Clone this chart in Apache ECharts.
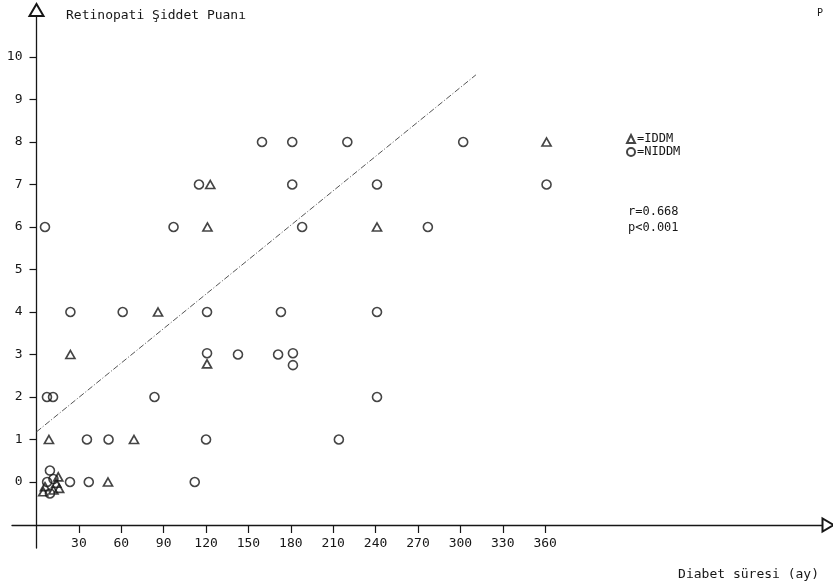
<!DOCTYPE html>
<html>
<head>
<meta charset="utf-8">
<script src="https://cdn.jsdelivr.net/npm/echarts@6/dist/echarts.min.js"></script>
<style>html,body{margin:0;padding:0;background:#fff;}#chart{width:833px;height:587px;}</style>
</head>
<body>
<div id="chart"></div>
<script>
// Diabetes duration (months) vs retinopathy severity score
const xTickValues = [30, 60, 90, 120, 150, 180, 210, 240, 270, 300, 330, 360];
const yTickValues = [0, 1, 2, 3, 4, 5, 6, 7, 8, 9, 10];

const iddmPoints = [
  [123, 7], [121, 6], [361, 8], [241, 6], [86, 4], [24, 3], [120.7, 2.78],
  [8.8, 1], [69, 1], [50.6, 0],
  [15.4, 0.12], [6, -0.11], [16, -0.15], [4.8, -0.23], [12, -0.19], [14, -0.03]
];

const niddmPoints = [
  [159.6, 8], [181, 8], [220, 8], [302, 8],
  [115, 7], [181, 7], [241, 7], [361, 7],
  [6, 6], [97, 6], [188, 6], [277, 6],
  [24, 4], [61, 4], [120.7, 4], [173, 4], [241, 4],
  [120.7, 3.03], [142.6, 3], [171, 3], [181.5, 3.03], [181.5, 2.75],
  [7.4, 2], [11.7, 2], [83.5, 2], [241, 2],
  [35.7, 1], [51, 1], [120, 1], [214, 1],
  [23.7, 0], [37, 0], [112, 0],
  [9.5, 0.27], [12, 0.07], [9.5, -0.27], [7.5, 0.0]
];

const regressionLine = [[0, 1.18], [311, 9.58]];

const fontMono = '"DejaVu Sans Mono", "Liberation Mono", monospace';
const ink = '#161616';

const chart = echarts.init(document.getElementById('chart'), null, {renderer: 'canvas'});
chart.setOption({
  animation: false,
  backgroundColor: '#ffffff',
  title: [
    {text: 'Retinopati Şiddet Puanı', left: 61, top: 4,
     textStyle: {fontFamily: fontMono, fontSize: 13, fontWeight: 'normal', color: ink}},
    {text: 'Diabet süresi (ay)', right: 9, top: 563,
     textStyle: {fontFamily: fontMono, fontSize: 13, fontWeight: 'normal', color: ink}},
    {text: 'r=0.668', left: 623, top: 201,
     textStyle: {fontFamily: fontMono, fontSize: 12, fontWeight: 'normal', color: ink}},
    {text: 'p<0.001', left: 623, top: 217,
     textStyle: {fontFamily: fontMono, fontSize: 12, fontWeight: 'normal', color: ink}},
    {text: 'P', left: 812, top: 3,
     textStyle: {fontFamily: fontMono, fontSize: 10, fontWeight: 'normal', color: ink}}
  ],
  legend: {
    data: ['IDDM', 'NIDDM'],
    orient: 'vertical',
    left: 621, top: 128,
    itemWidth: 8, itemHeight: 8, itemGap: 1,
    formatter: function (n) { return '=' + n; },
    textStyle: {fontFamily: fontMono, fontSize: 12, color: ink, padding: [0, 0, 0, -3]}
  },
  grid: {left: 12, right: 5, top: 10, bottom: 39, containLabel: false, outerBoundsMode: 'none'},
  xAxis: {
    type: 'value',
    min: -17.34, max: 560.2,
    offset: -23,
    axisLine: {onZero: false, symbol: ['none', 'emptyTriangle'], symbolSize: [13, 11],
      lineStyle: {color: ink, width: 1.3}},
    axisTick: {show: true, customValues: xTickValues, length: 8, lineStyle: {color: ink, width: 1.2}},
    axisLabel: {customValues: xTickValues, margin: 12, fontFamily: fontMono, fontSize: 13, color: ink},
    splitLine: {show: false}
  },
  yAxis: {
    type: 'value',
    position: 'left',
    offset: -24.5,
    min: -1.553, max: 11.106,
    axisLine: {onZero: false, symbol: ['none', 'emptyTriangle'], symbolSize: [14, 12],
      lineStyle: {color: ink, width: 1.3}},
    axisTick: {show: true, customValues: yTickValues, length: 7, lineStyle: {color: ink, width: 1.2}},
    axisLabel: {customValues: yTickValues, margin: 14, fontFamily: fontMono, fontSize: 13, color: ink},
    splitLine: {show: false}
  },
  series: [
    {
      name: 'IDDM', type: 'scatter', data: iddmPoints,
      symbol: 'triangle', symbolSize: [9, 8],
      itemStyle: {color: 'rgba(255,255,255,0)', borderColor: ink, borderWidth: 1.7},
      z: 3
    },
    {
      name: 'NIDDM', type: 'scatter', data: niddmPoints,
      symbol: 'circle', symbolSize: 9,
      itemStyle: {color: 'rgba(255,255,255,0)', borderColor: ink, borderWidth: 1.6},
      z: 3
    },
    {
      name: 'regression', type: 'line', data: regressionLine,
      showSymbol: false, symbol: 'none',
      lineStyle: {color: '#555', width: 1, type: [6, 2, 1, 2]},
      z: 2
    }
  ]
});
</script>
</body>
</html>
